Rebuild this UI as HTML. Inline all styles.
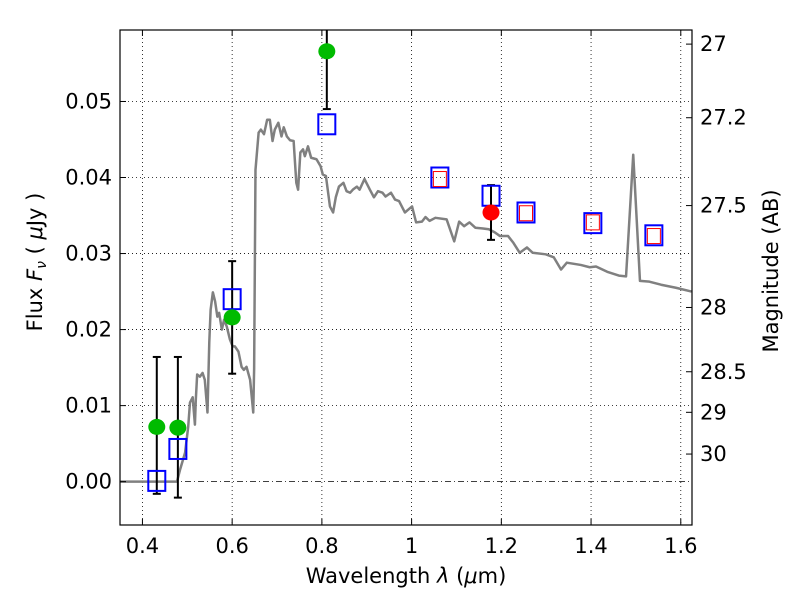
<!DOCTYPE html>
<html><head><meta charset="utf-8"><style>
body{margin:0;background:#fff;}
svg text{font-family:"DejaVu Sans","Liberation Sans",sans-serif;fill:#000;}
</style></head><body>
<svg id="chart" width="800" height="600" xmlns="http://www.w3.org/2000/svg">
<rect width="800" height="600" fill="#fff"/>
<g id="grid"></g>
<g id="plot"></g>
<g id="axes"></g>
<text x="406" y="583" font-size="21" text-anchor="middle">Wavelength  <tspan font-style="italic">λ</tspan> (<tspan font-style="italic">μ</tspan>m)</text>
<text transform="translate(42,262) rotate(-90)" font-size="21" text-anchor="middle">Flux  <tspan font-style="italic">F</tspan><tspan font-style="italic" font-size="14" dy="4">ν</tspan><tspan dy="-4">  ( </tspan><tspan font-style="italic">μ</tspan>Jy )</text>
<text transform="translate(778,271) rotate(-90)" font-size="21" text-anchor="middle">Magnitude (AB)</text>
</svg>
<script>
const specWave=[0.350,0.477,0.484,0.495,0.502,0.506,0.512,0.517,0.519,0.522,0.528,0.534,0.539,0.545,0.549,0.552,0.557,0.562,0.567,0.571,0.577,0.582,0.588,0.595,0.601,0.606,0.614,0.621,0.626,0.632,0.640,0.647,0.649,0.652,0.659,0.664,0.671,0.678,0.684,0.690,0.695,0.703,0.710,0.715,0.722,0.729,0.737,0.743,0.747,0.752,0.758,0.762,0.769,0.776,0.788,0.797,0.802,0.809,0.818,0.825,0.831,0.838,0.848,0.855,0.863,0.869,0.878,0.884,0.891,0.895,0.907,0.916,0.925,0.935,0.942,0.954,0.963,0.972,0.985,0.993,1.001,1.010,1.023,1.031,1.040,1.053,1.078,1.095,1.106,1.117,1.129,1.142,1.159,1.172,1.185,1.197,1.215,1.227,1.241,1.257,1.270,1.299,1.317,1.333,1.346,1.377,1.397,1.411,1.436,1.462,1.478,1.494,1.509,1.530,1.556,1.589,1.624];
const specFlux=[0,0,0.0016,0.0038,0.0072,0.0104,0.0111,0.0075,0.0108,0.0141,0.0138,0.0143,0.0134,0.0091,0.0183,0.0226,0.0249,0.0237,0.0217,0.0222,0.0200,0.0213,0.0204,0.0187,0.0178,0.0178,0.0171,0.0151,0.0147,0.0151,0.0134,0.0091,0.0149,0.0410,0.0459,0.0463,0.0457,0.0476,0.0476,0.0448,0.0463,0.0472,0.0454,0.0466,0.0454,0.0449,0.0448,0.0393,0.0384,0.0433,0.0437,0.0428,0.0441,0.0426,0.0424,0.0415,0.0404,0.0402,0.0362,0.0354,0.0374,0.0388,0.0393,0.0382,0.0380,0.0384,0.0388,0.0384,0.0393,0.0398,0.0384,0.0374,0.0382,0.0380,0.0375,0.0380,0.0371,0.0369,0.0354,0.0358,0.0362,0.0341,0.0342,0.0348,0.0343,0.0347,0.0345,0.0316,0.0342,0.0336,0.0341,0.0334,0.0333,0.0332,0.0328,0.0323,0.0323,0.0314,0.0301,0.0308,0.0301,0.0299,0.0295,0.0279,0.0288,0.0285,0.0282,0.0283,0.0276,0.0271,0.0270,0.0430,0.0264,0.0263,0.0259,0.0255,0.0250];
const modelWave=[0.432,0.479,0.600,0.811,1.063,1.177,1.255,1.404,1.540];
const modelFlux=[0.0001,0.0043,0.0240,0.0470,0.0400,0.0376,0.0354,0.0340,0.0324];
const redSqWave=[1.063,1.255,1.404,1.540];
const redSqFlux=[0.0398,0.0353,0.0341,0.0323];
const obsWave=[0.432,0.479,0.600,0.811];
const obsFlux=[0.0072,0.0071,0.0216,0.0566];
const obsLo=[-0.0016,-0.0021,0.0142,0.0490];
const obsHi=[0.0164,0.0164,0.0290,0.0640];
const redWave=[1.177];
const redFlux=[0.0354];
const redLo=[0.0318];
const redHi=[0.0390];
const xTicks=[0.4,0.6,0.8,1.0,1.2,1.4,1.6];
const xTickLabels=["0.4","0.6","0.8","1","1.2","1.4","1.6"];
const yTicks=[0,0.01,0.02,0.03,0.04,0.05];
const yTickLabels=["0.00","0.01","0.02","0.03","0.04","0.05"];
const magTicks=[27,27.2,27.5,28,28.5,29,30];
const magTickLabels=["27","27.2","27.5","28","28.5","29","30"];

const L=120,R=692,T=30,B=525;
const xMin=0.35,xMax=1.625,yMin=-0.0057,yMax=0.0594;
const X=v=>L+(v-xMin)/(xMax-xMin)*(R-L);
const Y=v=>B-(v-yMin)/(yMax-yMin)*(B-T);
const NS="http://www.w3.org/2000/svg";
function mk(tag,attrs,parent){const e=document.createElementNS(NS,tag);for(const k in attrs)e.setAttribute(k,attrs[k]);parent.appendChild(e);return e;}
const grid=document.getElementById('grid'),plot=document.getElementById('plot'),axes=document.getElementById('axes');
const clip=mk('clipPath',{id:'clp'},document.getElementById('chart'));
mk('rect',{x:L,y:T,width:R-L,height:B-T},clip);
plot.setAttribute('clip-path','url(#clp)');

xTicks.forEach((v,i)=>{
  const g=mk('line',{x1:X(v),x2:X(v),y1:T,y2:B,stroke:'#000','stroke-width':0.8,'stroke-dasharray':'1,3'},grid);
  
  
  mk('line',{x1:X(v),x2:X(v),y1:B,y2:B-6,stroke:'#000','stroke-width':1},axes);
  mk('line',{x1:X(v),x2:X(v),y1:T,y2:T+6,stroke:'#000','stroke-width':1},axes);
  const t=mk('text',{x:X(v),y:B+28,'font-size':21,'text-anchor':'middle'},axes);
  t.textContent=xTickLabels[i];
  
  
});
yTicks.forEach((v,i)=>{
  const g=mk('line',{x1:L,x2:R,y1:Y(v),y2:Y(v),stroke:'#000','stroke-width':0.8,'stroke-dasharray':v===0?'6,3,1,3':'1,3'},grid);
  
  
  mk('line',{x1:L,x2:L+6,y1:Y(v),y2:Y(v),stroke:'#000','stroke-width':1},axes);
  const t=mk('text',{x:L-8,y:Y(v)+7,'font-size':21,'text-anchor':'end'},axes);
  t.textContent=yTickLabels[i];
  
  
});
magTicks.forEach((m,i)=>{
  const f=Math.pow(10,(23.9-m)/2.5);
  mk('line',{x1:R,x2:R-6,y1:Y(f),y2:Y(f),stroke:'#000','stroke-width':1},axes);
  const t=mk('text',{x:R+8,y:Y(f)+7,'font-size':21},axes);
  t.textContent=magTickLabels[i];
  
  
});
mk('rect',{x:L,y:T,width:R-L,height:B-T,fill:'none',stroke:'#000','stroke-width':1.2},axes);

const sp=mk('polyline',{points:specWave.map((w,i)=>X(w)+','+Y(specFlux[i])).join(' '),fill:'none',stroke:'#808080','stroke-width':2.5,'stroke-linejoin':'round'},plot);



function errbar(w,lo,hi){
  mk('line',{x1:X(w),x2:X(w),y1:Y(lo),y2:Y(hi),stroke:'#000','stroke-width':2},plot);
  mk('line',{x1:X(w)-4,x2:X(w)+4,y1:Y(lo),y2:Y(lo),stroke:'#000','stroke-width':2},plot);
  mk('line',{x1:X(w)-4,x2:X(w)+4,y1:Y(hi),y2:Y(hi),stroke:'#000','stroke-width':2},plot);
}
obsWave.forEach((w,i)=>errbar(w,obsLo[i],obsHi[i]));
redWave.forEach((w,i)=>errbar(w,redLo[i],redHi[i]));

modelWave.forEach((w,i)=>{
  const r=mk('rect',{x:X(w)-8.5,y:Y(modelFlux[i])-10,width:17,height:20,fill:'none',stroke:'#0000ff','stroke-width':2},plot);
  
  
});
redSqWave.forEach((w,i)=>{
  const r=mk('rect',{x:X(w)-6.5,y:Y(redSqFlux[i])-7.5,width:13,height:15,fill:'none',stroke:'#ff0000','stroke-width':1},plot);
  
  
});
obsWave.forEach((w,i)=>{
  const c=mk('ellipse',{cx:X(w),cy:Y(obsFlux[i]),rx:8.5,ry:8,fill:'#00bb00'},plot);
  
  
});
redWave.forEach((w,i)=>{
  const c=mk('ellipse',{cx:X(w),cy:Y(redFlux[i]),rx:8.5,ry:8,fill:'#ff0000'},plot);
  
  
});
</script>
</body></html>
